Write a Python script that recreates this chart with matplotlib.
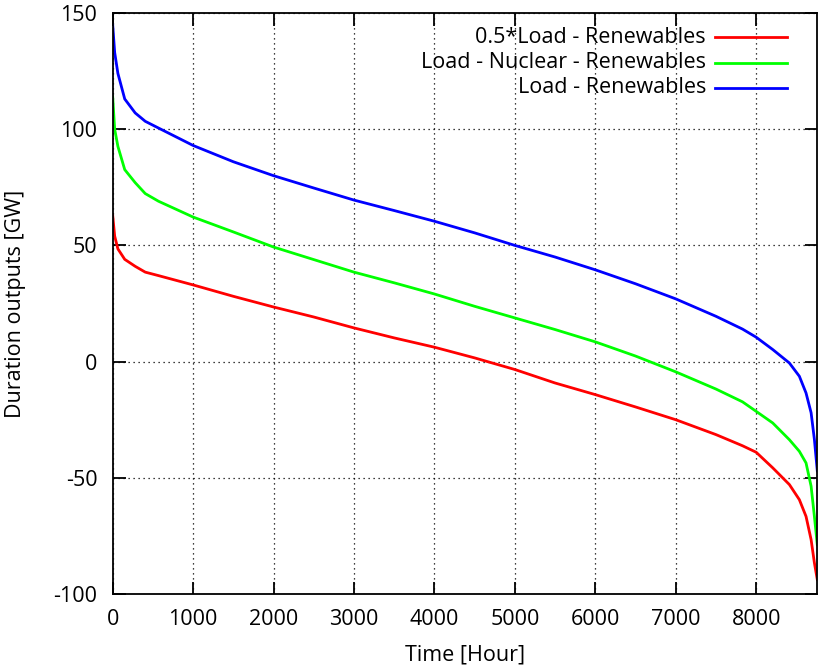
import matplotlib
matplotlib.use("Agg")
import matplotlib.pyplot as plt

plt.rcParams['font.family'] = ['Open Sans', 'DejaVu Sans']
plt.rcParams['font.size'] = 15.5
plt.rcParams['axes.unicode_minus'] = False

# duration curves, sorted high to low over one year
hours = [0, 25, 65, 150, 280, 405, 570, 1000, 1500, 2000, 2500, 3000, 3500,
         4000, 4500, 5000, 5500, 6000, 6500, 7000, 7500, 7830, 8000, 8206,
         8413, 8537, 8620, 8683, 8724, 8760]

half_load_minus_ren = [63, 54, 48.5, 44, 41, 38.5, 37, 33, 28.1, 23.5, 19.2,
                       14.5, 10.2, 6.2, 1.6, -3.4, -9.2, -14.2, -19.5, -25,
                       -31.4, -36.2, -39, -45.7, -52.9, -59.4, -66.6, -76.6,
                       -86.6, -93.8]
load_minus_nuc_ren = [114, 100, 92.6, 82.6, 77, 72.3, 69, 62.2, 55.8, 49.3,
                      43.9, 38.5, 33.9, 29.1, 23.8, 18.8, 13.8, 8.5, 2.4, -4.4,
                      -11.8, -17.3, -21.4, -26.4, -33.6, -38.6, -43.6, -53.6,
                      -66.6, -78.8]
load_minus_ren = [145, 133, 124, 113, 107, 103.4, 100.5, 93, 86, 80, 74.7,
                  69.5, 65, 60.4, 55.4, 50, 45, 39.5, 33.5, 27, 19.5, 14,
                  10.5, 5.2, -0.6, -6.3, -13.5, -22, -33.5, -47]

labels = ['0.5*Load - Renewables', 'Load - Nuclear - Renewables',
          'Load - Renewables']
colors = ['#ff0000', '#00ff00', '#0000ff']

fig = plt.figure(figsize=(8.2, 6.7), dpi=100)
ax = fig.add_axes([0.1374, 0.1134, 0.8593, 0.8672])

series = [half_load_minus_ren, load_minus_nuc_ren, load_minus_ren]
for ys, c in zip(series, colors):
    ax.plot(hours, ys, color=c, lw=2)

ax.set_xlim(0, 8760)
ax.set_ylim(-100, 150)
ax.set_xticks(range(0, 9000, 1000))
ax.set_yticks(range(-100, 151, 50))

ax.grid(True, color='black', linestyle=(0, (1, 3)), linewidth=0.9)
ax.tick_params(direction='in', length=9, width=1.3, top=True, right=True,
               pad=11)
for sp in ax.spines.values():
    sp.set_linewidth(1.3)

ax.set_xlabel('Time [Hour]', labelpad=10)
ax.set_ylabel('Duration outputs [GW]')
ax.yaxis.set_label_coords(-0.123, 0.5)

# gnuplot-style key: right-aligned text with the line sample after it
key_y = [0.958, 0.914, 0.871]
for lab, c, ky in zip(labels, colors, key_y):
    ax.text(0.842, ky, lab, transform=ax.transAxes, ha='right', va='center')
    ax.plot([0.855, 0.957], [ky, ky], transform=ax.transAxes, color=c, lw=2)

fig.savefig('out.png', dpi=100)
